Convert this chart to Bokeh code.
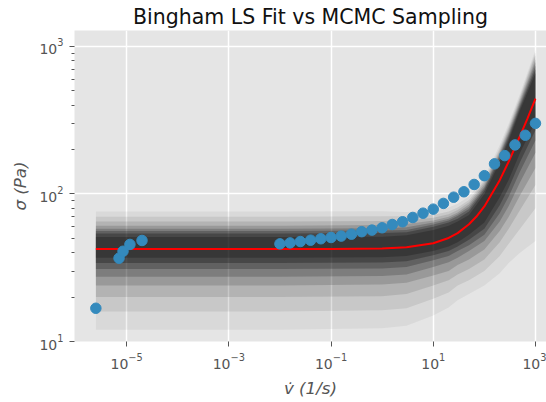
from bokeh.plotting import figure
from bokeh.models import Range1d, FixedTicker, LogTickFormatter
from bokeh.embed import file_html
from bokeh.resources import INLINE

# ---------------- data ----------------
# measured points, low shear-rate group
low_rate = [2.5e-6, 7.1e-6, 8.5e-6, 1.16e-5, 2.0e-5]
low_stress = [16.8, 36.7, 40.9, 45.5, 48.4]

# measured points, main sweep
rate = [0.01, 0.0158, 0.0251, 0.0398, 0.0631, 0.1, 0.158, 0.251, 0.398, 0.631,
        1.0, 1.58, 2.51, 3.98, 6.31, 10.0, 15.8, 25.1, 39.8, 63.1,
        100.0, 158.0, 251.0, 398.0, 631.0, 1000.0]
stress = [45.9, 46.6, 47.6, 48.6, 49.7, 50.7, 51.8, 53.4, 55.5, 56.9,
          59.0, 62.1, 64.8, 69.3, 74.1, 78.9, 86.3, 95.1, 103.5, 116.0,
          133.0, 160.0, 182.0, 215.0, 250.0, 301.0]

# Bingham least-squares fit curve
fit_rate = [2.5e-6, 1e-2, 1e-1, 1, 3, 10, 20, 30, 50, 70, 100, 200, 300, 400, 500, 700, 1000]
fit_stress = [42.3, 42.3, 42.3, 42.7, 43.5, 46.3, 50.3, 54.3, 62.3, 70.3, 82.3,
              124.0, 166.0, 208.0, 248.0, 325.0, 442.0]

# MCMC sample envelope: nested bands, outermost (b1) to core (b8)
band_rate = [2.5e-6, 1e-2, 1, 3, 10, 20, 30, 50, 100, 200, 300, 500, 1000]
b1_hi = [76, 76, 76.5, 75.5, 77, 81, 86, 96, 130, 215, 300, 480, 950]
b2_hi = [70, 70, 70.5, 70.5, 72, 76, 81, 91, 124, 205, 288, 460, 910]
b3_hi = [65, 65, 65.5, 66, 69, 73, 78, 88, 120, 198, 278, 445, 870]
b4_hi = [61, 61, 61.5, 62.5, 66, 70, 75, 85, 116, 192, 268, 430, 820]
b5_hi = [58, 58, 58.5, 59.5, 64, 68, 73, 82, 112, 186, 258, 415, 780]
b6_hi = [56, 56, 56.5, 57, 62, 66, 71, 79, 109, 180, 250, 400, 740]
b7_hi = [54, 54, 54.3, 55, 60, 64, 68, 76, 105, 172, 240, 385, 700]
b8_hi = [51, 51, 51.3, 52.5, 57, 61, 65, 72, 100, 165, 230, 370, 660]
b8_lo = [37, 37, 37.3, 38, 41, 44, 47, 53, 64, 95, 125, 190, 310]
b7_lo = [34, 34, 34.3, 35, 38.5, 41, 44, 49, 58, 84, 110, 165, 270]
b6_lo = [31, 31, 31.3, 32, 35.5, 38, 41, 45, 53, 74, 96, 142, 230]
b5_lo = [27.5, 27.5, 27.8, 28.5, 32, 34.5, 37, 41, 48, 65, 83, 120, 190]
b4_lo = [24, 24, 24.3, 25, 28, 30, 33, 36, 42, 56, 70, 98, 150]
b3_lo = [20, 20, 20.3, 21, 24, 26, 28.5, 31, 36, 47, 58, 78, 115]
b2_lo = [16, 16, 16.3, 16.8, 19.5, 21.5, 24, 26, 30, 38, 46, 58, 80]
b1_lo = [12, 12, 12.3, 12.8, 15, 17, 19, 21, 24, 29, 34, 40, 48]

x_ticks = [1e-5, 1e-3, 1e-1, 1e1, 1e3]
y_ticks = [10, 100, 1000]
y_minor = [20, 30, 40, 50, 60, 70, 80, 90, 200, 300, 400, 500, 600, 700, 800, 900]

# ---------------- figure ----------------
p = figure(width=546, height=402, x_axis_type="log", y_axis_type="log",
           x_range=Range1d(10 ** -6.02, 10 ** 3.216),
           y_range=Range1d(10, 10 ** 3.108),
           output_backend="svg", toolbar_location=None,
           min_border_left=74, min_border_right=0,
           min_border_top=30, min_border_bottom=61,
           background_fill_color="#E5E5E5", border_fill_color="white",
           outline_line_color=None,
           title="Bingham LS Fit vs MCMC Sampling")

p.title.text_font = "DejaVu Sans"
p.title.text_font_size = "20.5px"
p.title.text_font_style = "normal"
p.title.text_color = "#111111"
p.title.align = "center"
p.title.standoff = 4

for g in (p.xgrid[0], p.ygrid[0]):
    g.grid_line_color = "white"
    g.grid_line_width = 1.5

p.xaxis.ticker = FixedTicker(ticks=x_ticks, minor_ticks=[])
p.yaxis.ticker = FixedTicker(ticks=y_ticks, minor_ticks=y_minor)
for ax in (p.xaxis[0], p.yaxis[0]):
    ax.formatter = LogTickFormatter()
    ax.axis_line_color = None
    ax.major_tick_line_color = "#555555"
    ax.major_tick_in = 0
    ax.major_tick_out = 5
    ax.minor_tick_line_color = "#555555"
    ax.minor_tick_in = 0
    ax.minor_tick_out = 3
    ax.major_label_text_color = "#555555"
    ax.major_label_text_font = "DejaVu Sans"
    ax.major_label_text_font_size = "14px"
    ax.major_label_standoff = 6
    ax.axis_label_text_font = "DejaVu Sans"
    ax.axis_label_text_font_size = "16.7px"
    ax.axis_label_text_font_style = "italic"
    ax.axis_label_text_color = "#555555"
    ax.axis_label_standoff = 6

p.xaxis.axis_label = "v\u0307 (1/s)"
p.yaxis.axis_label = "\u03c3 (Pa)"

bands = [(b1_lo, b1_hi, 0.05), (b2_lo, b2_hi, 0.08), (b3_lo, b3_hi, 0.10),
         (b4_lo, b4_hi, 0.14), (b5_lo, b5_hi, 0.18), (b6_lo, b6_hi, 0.22),
         (b7_lo, b7_hi, 0.26), (b8_lo, b8_hi, 0.22)]
for lo, hi, a in bands:
    p.varea(x=band_rate, y1=lo, y2=hi, fill_color="black", fill_alpha=a)

p.line(fit_rate, fit_stress, line_color="red", line_width=2)

p.scatter(low_rate, low_stress, size=10.5, fill_color="#348ABD", line_color="#348ABD")
p.scatter(rate, stress, size=10.5, fill_color="#348ABD", line_color="#348ABD")

open("out.html", "w").write(file_html(p, INLINE))
